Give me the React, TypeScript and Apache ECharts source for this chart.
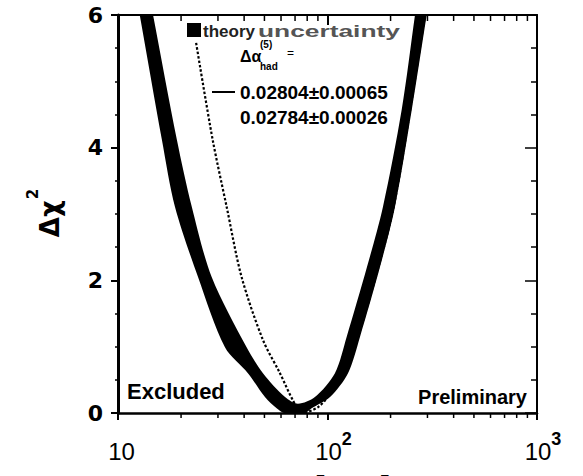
import React, { useEffect, useRef } from "react";
import * as echarts from "echarts";

// ---- data (m_H in GeV, delta chi^2) ----
const xTickExponents = [1, 2, 3];
const yTicks = [0, 2, 4, 6];
const xMinorTicks = [20, 30, 40, 50, 60, 70, 80, 90, 200, 300, 400, 500, 600, 700, 800, 900];

// theory-uncertainty band: outer (lower) edge, left branch top -> minimum -> right branch top
const bandOuter: number[][] = [
  [11.75, 6.6], [12.7, 6.0], [16.2, 4.12], [18.7, 3.11], [24.1, 2.05], [32.4, 0.99], [41.7, 0.6],
  [50.3, 0.24], [57.2, 0.07], [62, 0.0], [78, 0.0], [84, 0.07], [102.8, 0.24],
  [125.3, 0.6], [143, 1.15], [178, 2.2], [210, 3.11], [252.5, 4.57], [297.5, 6.0], [319, 6.6],
];
// inner (upper) edge, right branch top -> minimum -> left branch top
const bandInner: number[][] = [
  [278, 6.6], [261.6, 6.0], [226, 4.57], [184, 3.11], [154.3, 2.2], [123.5, 1.15], [108.5, 0.6],
  [87.1, 0.24], [72.3, 0.14], [62.7, 0.24], [49.2, 0.6], [41.1, 0.99], [28.0, 2.05],
  [22.5, 3.11], [19.1, 4.12], [14.7, 6.0], [13.5, 6.6],
];
// central fit, delta alpha_had = 0.02804 +- 0.00065 (solid)
const fitSolid: number[][] = [
  [13.7, 6.0], [17.6, 4.12], [20.6, 3.11], [26, 2.05], [36.5, 1.0], [45.3, 0.6],
  [56, 0.24], [62, 0.1], [68, 0.04], [76, 0.06], [85, 0.14], [95, 0.24], [116, 0.6],
  [133, 1.15], [166, 2.2], [197, 3.11], [239, 4.57], [279, 6.0],
];
// delta alpha_had = 0.02784 +- 0.00026 (dotted)
const fitDotted: number[][] = [
  [23.6, 5.58], [28.3, 4.12], [33.0, 3.11], [38.9, 2.05], [49.2, 1.1], [59.3, 0.6],
  [68.4, 0.19], [75.3, 0.0], [90.2, 0.09], [106.2, 0.34], [121.2, 0.6], [140, 1.15],
  [175, 2.2], [207, 3.11], [248, 4.57], [292, 6.0],
];

const SANS = "Liberation Sans, Arial, Helvetica, sans-serif";
const DEJA = "DejaVu Sans, sans-serif";

export default function App() {
  const ref = useRef<HTMLDivElement>(null);
  useEffect(() => {
    if (!ref.current) return;
    const chart = echarts.init(ref.current, undefined, { renderer: "svg" });
    const option: any = {
      animation: false,
      backgroundColor: "#fff",
      grid: { left: 118, right: 46, top: 15, bottom: 63 },
      xAxis: [
        {
          type: "log",
          logBase: 10,
          min: 10,
          max: 1000,
          position: "bottom",
          splitLine: { show: false },
          axisLine: { onZero: false, lineStyle: { color: "#000", width: 2.5 } },
          axisTick: { inside: false, length: 7, lineStyle: { color: "#000", width: 2 } },
          axisLabel: {
            margin: 20,
            color: "#000",
            formatter: (v: number) => {
              const e = Math.round(Math.log10(v));
              if (!xTickExponents.includes(e)) return "";
              return e === 1 ? "{b|10}{s| }" : `{b|10}{s|${e}}`;
            },
            rich: {
              b: { fontSize: 24, fontFamily: SANS, color: "#000", lineHeight: 24, padding: [12, 0, 0, 12] },
              s: { fontSize: 18, fontFamily: SANS, fontWeight: "bold", color: "#000", lineHeight: 18, padding: [3, 0, 15, 0] },
            },
          },
        },
        {
          type: "log",
          logBase: 10,
          min: 10,
          max: 1000,
          position: "top",
          splitLine: { show: false },
          axisLine: { onZero: false, lineStyle: { color: "#000", width: 2 } },
          axisTick: { inside: true, length: 10, lineStyle: { color: "#000", width: 2 } },
          axisLabel: { show: false },
        },
      ],
      yAxis: [
        {
          type: "value",
          min: 0,
          max: 6,
          interval: 2,
          position: "left",
          splitLine: { show: false },
          axisLine: { onZero: false, lineStyle: { color: "#000", width: 3 } },
          axisTick: { inside: false, length: 7, lineStyle: { color: "#000", width: 2 } },
          minorTick: { show: true, splitNumber: 4, length: 3, lineStyle: { color: "#000", width: 1.5 } },
          axisLabel: {
            margin: 15,
            color: "#000",
            fontSize: 22,
            fontWeight: "bold",
            fontFamily: DEJA,
            formatter: (v: number) => (yTicks.includes(v) ? String(v) : ""),
          },
        },
        {
          type: "value",
          min: 0,
          max: 6,
          interval: 2,
          position: "right",
          splitLine: { show: false },
          axisLine: { onZero: false, lineStyle: { color: "#000", width: 2 } },
          axisTick: { inside: true, length: 12, lineStyle: { color: "#000", width: 1.5 } },
          minorTick: { show: true, splitNumber: 4, length: 6, lineStyle: { color: "#000", width: 1.5 } },
          axisLabel: { show: false },
        },
      ],
      series: [
        {
          type: "custom",
          name: "theory uncertainty",
          clip: true,
          silent: true,
          z: 3,
          data: [[60, 1]],
          renderItem: (_p: any, api: any) => {
            const pts = bandOuter.concat(bandInner).map((p) => api.coord(p));
            return {
              type: "polygon",
              shape: { points: pts, smooth: 0.3 },
              style: { fill: "#000" },
            };
          },
        },
        {
          type: "line",
          name: "0.02804±0.00065",
          data: fitSolid,
          showSymbol: false,
          smooth: 0.3,
          z: 4,
          lineStyle: { color: "#000", width: 1.5 },
        },
        {
          type: "line",
          name: "0.02784±0.00026",
          data: fitDotted,
          showSymbol: false,
          smooth: 0.3,
          z: 2,
          lineStyle: { color: "#000", width: 2.2, type: [2.5, 2] },
        },
        {
          type: "custom",
          name: "minor ticks",
          clip: false,
          silent: true,
          data: xMinorTicks.map((m) => [m, 0]),
          renderItem: (_p: any, api: any) => {
            const m = api.value(0);
            const b = api.coord([m, 0]);
            const t = api.coord([m, 6]);
            return {
              type: "group",
              children: [
                { type: "line", shape: { x1: b[0], y1: b[1], x2: b[0], y2: b[1] + 5 }, style: { stroke: "#000", lineWidth: 1.5 } },
                { type: "line", shape: { x1: t[0], y1: t[1], x2: t[0], y2: t[1] + 6 }, style: { stroke: "#000", lineWidth: 1.5 } },
              ],
            };
          },
        },
      ],
      graphic: [
        { type: "rect", shape: { x: 187, y: 23, width: 14, height: 14 }, style: { fill: "#000" } },
        { type: "text", x: 203, y: 31, style: { text: "theory", fontSize: 17, fontWeight: "bold", fontFamily: SANS, fill: "#222", verticalAlign: "middle" } },
        { type: "text", x: 258, y: 31, scaleX: 1.55, style: { text: "uncertainty", fontSize: 17, fontWeight: "bold", fontFamily: SANS, fill: "#555", verticalAlign: "middle" } },
        { type: "text", x: 240, y: 56, style: { text: "Δα", fontSize: 16, fontWeight: "bold", fontFamily: SANS, fill: "#000", verticalAlign: "middle" } },
        { type: "text", x: 260, y: 44, style: { text: "(5)", fontSize: 10, fontWeight: "bold", fontFamily: SANS, fill: "#000", verticalAlign: "middle" } },
        { type: "text", x: 260, y: 66, style: { text: "had", fontSize: 10, fontWeight: "bold", fontFamily: SANS, fill: "#000", verticalAlign: "middle" } },
        { type: "text", x: 287, y: 53, style: { text: "=", fontSize: 12, fontFamily: SANS, fill: "#000", verticalAlign: "middle" } },
        { type: "line", shape: { x1: 212, y1: 92, x2: 235, y2: 92 }, style: { stroke: "#000", lineWidth: 2 } },
        { type: "text", x: 240, y: 92, style: { text: "0.02804±0.00065", fontSize: 19, fontWeight: "bold", fontFamily: SANS, fill: "#000", verticalAlign: "middle" } },
        { type: "text", x: 240, y: 117, style: { text: "0.02784±0.00026", fontSize: 19, fontWeight: "bold", fontFamily: SANS, fill: "#000", verticalAlign: "middle" } },
        { type: "text", x: 127, y: 391, style: { text: "Excluded", fontSize: 22, fontWeight: "bold", fontFamily: SANS, fill: "#000", verticalAlign: "middle" } },
        { type: "text", x: 527, y: 397, style: { text: "Preliminary", fontSize: 20, fontWeight: "bold", fontFamily: SANS, fill: "#000", align: "right", verticalAlign: "middle" } },
        {
          type: "text",
          x: 44,
          y: 213,
          rotation: Math.PI / 2,
          style: {
            text: "{a|Δχ}{s|2}",
            align: "center",
            verticalAlign: "middle",
            rich: {
              a: { fontSize: 26, fontWeight: "bold", fontFamily: DEJA, fill: "#000", lineHeight: 26, padding: [12, 0, 0, 0] },
              s: { fontSize: 15, fontWeight: "bold", fontFamily: DEJA, fill: "#000", lineHeight: 15, padding: [0, 0, 23, 1] },
            },
          },
        },
        {
          type: "text",
          x: 332,
          y: 485,
          style: {
            text: "{m|m}{h|H} {g|[GeV]}",
            align: "center",
            verticalAlign: "middle",
            rich: {
              m: { fontSize: 28, fontStyle: "italic", fontWeight: "bold", fontFamily: SANS, fill: "#000" },
              h: { fontSize: 18, fontWeight: "bold", fontFamily: SANS, fill: "#000", padding: [12, 0, 0, 0] },
              g: { fontSize: 28, fontWeight: "bold", fontFamily: SANS, fill: "#000" },
            },
          },
        },
      ],
    };
    chart.setOption(option);
    return () => chart.dispose();
  }, []);
  return <div ref={ref} style={{ position: "fixed", left: 0, top: 0, width: 583, height: 476 }} />;
}
